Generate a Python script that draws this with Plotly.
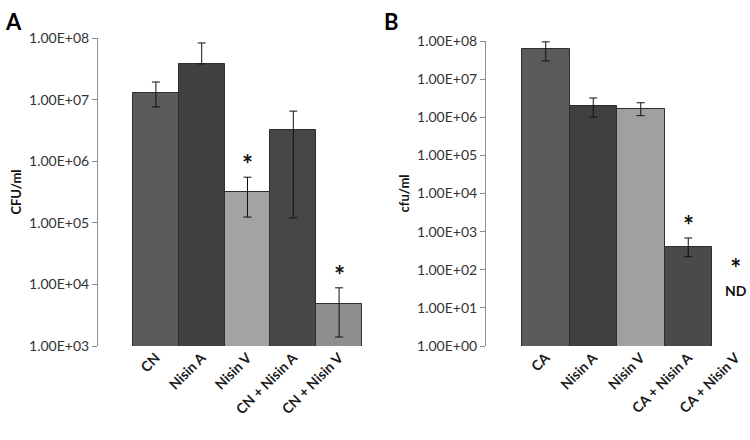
import plotly.graph_objects as go
import numpy as np

# ---- Panel A data ----
cats_a = ["CN", "Nisin A", "Nisin V", "CN + Nisin A", "CN + Nisin V"]
vals_a = [1.28e7, 3.8e7, 3.2e5, 3.2e6, 4.8e3]
hi_a = [1.93e7, 8.3e7, 5.5e5, 6.5e6, 8.8e3]
lo_a = [7.6e6, 3.8e7, 1.24e5, 1.2e5, 1.4e3]
colors_a = ["#5b5b5b", "#414141", "#a3a3a3", "#474747", "#8e8e8e"]
sig_a = ["", "", "*", "", "*"]

# ---- Panel B data ----
cats_b = ["CA", "Nisin A", "Nisin V", "CA + Nisin A", "CA + Nisin V"]
vals_b = [6.2e7, 2.0e6, 1.66e6, 4.0e2, None]
hi_b = [9.5e7, 3.2e6, 2.4e6, 6.8e2, None]
lo_b = [3.0e7, 1.02e6, 1.1e6, 2.2e2, None]
colors_b = ["#5b5b5b", "#404040", "#a0a0a0", "#4a4a4a", "#4a4a4a"]
sig_b = ["", "", "", "*", ""]
nd_b = ["", "", "", "", "ND"]

ytick_a = [1e3, 1e4, 1e5, 1e6, 1e7, 1e8]
ytick_b = [1e0, 1e1, 1e2, 1e3, 1e4, 1e5, 1e6, 1e7, 1e8]


def fmt(v):
    return "{:.2E}".format(v)


def plus(vals, hi):
    return [None if v is None else h - v for v, h in zip(vals, hi)]


def minus(vals, lo):
    return [None if v is None else v - l for v, l in zip(vals, lo)]


FONT = "Lato, 'Open Sans', sans-serif"
W, H = 750, 440

fig = go.Figure()
fig.add_trace(go.Bar(
    x=cats_a, y=vals_a, xaxis="x", yaxis="y",
    marker=dict(color=colors_a, line=dict(color="#2e2e2e", width=1)),
    error_y=dict(type="data", symmetric=False, array=plus(vals_a, hi_a),
                 arrayminus=minus(vals_a, lo_a), color="#111111",
                 thickness=1, width=4),
    width=1.0, showlegend=False, hoverinfo="x+y",
))
fig.add_trace(go.Bar(
    x=cats_b, y=vals_b, xaxis="x2", yaxis="y2",
    marker=dict(color=colors_b, line=dict(color="#2e2e2e", width=1)),
    error_y=dict(type="data", symmetric=False, array=plus(vals_b, hi_b),
                 arrayminus=minus(vals_b, lo_b), color="#111111",
                 thickness=1, width=4),
    width=1.0, showlegend=False, hoverinfo="x+y",
))

# pixel geometry of the plot areas
ax_l, ax_r = 98, 397
bx_l, bx_r = 486, 750
a_top, a_bot = 38, 346
b_top, b_bot = 41, 346

STAR = dict(size=26, color="#111111", family=FONT)
annotations = []
for c, h, s in zip(cats_a, hi_a, sig_a):
    if s:
        annotations.append(dict(x=c, y=np.log10(h), xref="x", yref="y", text="<b>" + s + "</b>",
                                showarrow=False, yanchor="bottom", yshift=-5, font=STAR))
for c, h, s in zip(cats_b, hi_b, sig_b):
    if s:
        annotations.append(dict(x=c, y=np.log10(h), xref="x2", yref="y2", text="<b>" + s + "</b>",
                                showarrow=False, yanchor="bottom", yshift=-5, font=STAR))
for c, n in zip(cats_b, nd_b):
    if n:
        annotations.append(dict(x=c, y=0, xref="x2", yref="y2",
                                text="<span style='font-size:26px'><b>*</b></span><br><b>" + n + "</b>",
                                showarrow=False, yanchor="bottom", yshift=45,
                                font=dict(size=14, color="#111111", family=FONT)))

annotations += [
    dict(x=3 / W, y=1 - 6 / H, xref="paper", yref="paper", text="<b>A</b>",
         showarrow=False, xanchor="left", yanchor="top",
         font=dict(size=22, color="#000000", family=FONT)),
    dict(x=382 / W, y=1 - 6 / H, xref="paper", yref="paper", text="<b>B</b>",
         showarrow=False, xanchor="left", yanchor="top",
         font=dict(size=22, color="#000000", family=FONT)),
]

yaxis_common = dict(type="log", showgrid=False, zeroline=False, showline=True,
                    linecolor="#8c8c8c", linewidth=1, ticks="outside", ticklen=5,
                    tickcolor="#8c8c8c", tickfont=dict(size=14, color="#333333", family=FONT),
                    automargin=False)
xaxis_common = dict(showgrid=False, zeroline=False, showline=False, ticks="",
                    tickangle=-45, tickfont=dict(size=14, color="#1a1a1a", family=FONT),
                    automargin=False, type="category")

slot_a = (ax_r - ax_l) / (len(cats_a) + 2 * 35 / 45.8)
gap_a = 35 / slot_a
slot_b = 47.5
gap_b = (522 - bx_l) / slot_b

fig.update_layout(
    width=W, height=H,
    margin=dict(l=0, r=0, t=0, b=0),
    paper_bgcolor="white", plot_bgcolor="white",
    font=dict(family=FONT),
    bargap=0,
    xaxis=dict(xaxis_common, domain=[ax_l / W, ax_r / W], anchor="y",
               range=[-0.5 - gap_a, len(cats_a) - 0.5 + gap_a],
               tickmode="array", tickvals=cats_a, ticktext=["<b>" + c + "</b>" for c in cats_a]),
    yaxis=dict(yaxis_common, domain=[1 - a_bot / H, 1 - a_top / H], anchor="x",
               range=[3, 8], tickvals=ytick_a, ticktext=[fmt(v) for v in ytick_a],
               title=dict(text="<b>CFU/ml</b>", standoff=4,
                          font=dict(size=13, color="#111111", family=FONT))),
    xaxis2=dict(xaxis_common, domain=[bx_l / W, bx_r / W], anchor="y2",
                range=[-0.5 - gap_b, -0.5 + (bx_r - 522) / slot_b],
                tickmode="array", tickvals=cats_b, ticktext=["<b>" + c + "</b>" for c in cats_b]),
    yaxis2=dict(yaxis_common, domain=[1 - b_bot / H, 1 - b_top / H], anchor="x2",
                range=[0, 8], tickvals=ytick_b, ticktext=[fmt(v) for v in ytick_b],
                title=dict(text="<b>cfu/ml</b>", standoff=4,
                           font=dict(size=13, color="#111111", family=FONT))),
    annotations=annotations,
)

fig.write_html("out.html", config={"displayModeBar": False},
               post_script="document.body.style.margin='0';")
